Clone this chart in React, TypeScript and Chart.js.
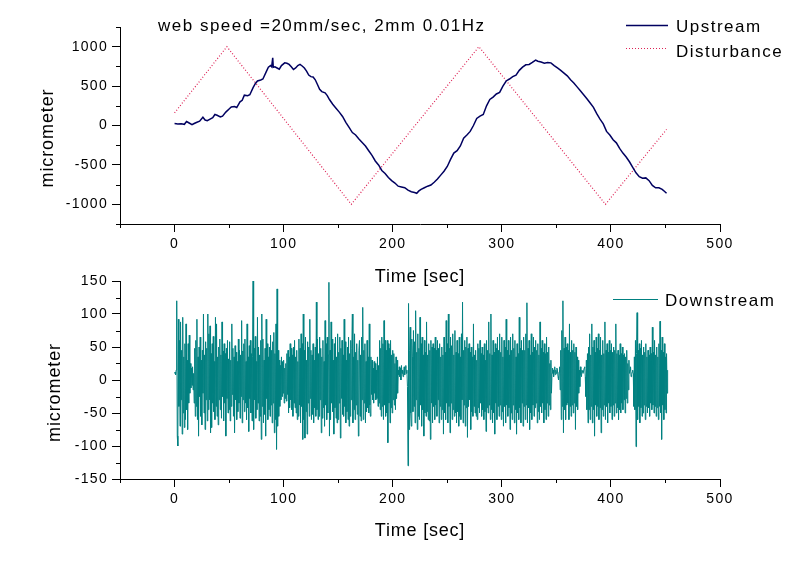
import React, { useEffect, useRef } from 'react';
import { Chart, registerables } from 'chart.js';
Chart.register(...registerables);

const FONT = '"Liberation Sans", Arial, Helvetica, sans-serif';

const TITLE = 'web speed =20mm/sec, 2mm 0.01Hz';
const X_TITLE = 'Time [sec]';
const Y_TITLE = 'micrometer';
const UP_LABEL = 'Upstream';
const DIST_LABEL = 'Disturbance';
const DOWN_LABEL = 'Downstream';

const X_MIN = -50;
const X_MAX = 500;
const X_STEP = 50;
const X_MAJOR = 100;
const TOP_Y_MIN = -1250;
const TOP_Y_MAX = 1250;
const TOP_Y_STEP = 250;
const TOP_Y_MAJOR = 500;
const BOT_Y_MIN = -150;
const BOT_Y_MAX = 150;
const BOT_Y_STEP = 25;
const BOT_Y_MAJOR = 50;

const UP_COLOR = '#000060';
const DIST_COLOR = '#dd2255';
const DOWN_COLOR = '#008080';

// Upstream (time s, micrometer)
const UP_T = [0,3,6,9,11,13,16,18,20,23,26,28,30,33,35,37,39,42,44,47,50,52,55,57,60,62,64,67,69,72,74,76,79,81,84,86,88,89,90,90.5,92,94,96,98,101,103,105,107,109,111,113,115,117,119,121,123,125,127,129,131,133,135,138,140,142,145,148,151,154,157,160,163,166,169,172,175,178,181,184,187,190,193,196,199,202,205,208,211,214,217,220,222,224,226,229,232,235,238,241,244,247,250,253,256,259,262,265,268,271,274,277,280,283,286,289,292,295,298,301,304,307,310,313,316,319,322,325,328,331,333,336,339,342,345,348,351,354,357,360,363,366,369,372,375,378,381,384,387,390,393,396,399,402,405,408,411,414,417,420,423,426,429,432,435,438,441,444,447,449,451];
const UP_V = [25,20,22,15,50,35,10,25,38,55,105,70,62,85,100,140,130,110,118,170,210,235,240,228,300,320,385,378,390,480,530,565,578,590,680,740,760,745,860,740,745,730,715,760,795,790,775,745,710,730,760,775,755,730,690,640,620,615,580,520,460,430,415,380,330,270,220,170,115,40,-25,-90,-120,-170,-215,-260,-320,-380,-450,-500,-570,-610,-660,-700,-730,-770,-780,-790,-820,-840,-850,-860,-830,-810,-790,-770,-755,-720,-680,-630,-580,-520,-430,-350,-320,-260,-160,-120,-75,0,90,120,140,250,330,360,400,420,500,565,590,620,640,700,740,770,775,800,830,815,805,790,800,795,760,730,700,665,630,580,540,490,440,390,340,285,230,150,80,20,-75,-120,-180,-220,-290,-350,-400,-460,-530,-600,-650,-670,-665,-700,-760,-790,-790,-810,-835,-860];

// Disturbance (triangle wave vertices)
const DIST_T = [0, 48, 162, 279, 395, 451];
const DIST_V = [160, 1000, -1000, 1000, -1000, -50];

// Downstream: two samples per second from t = 0 (each row = 10 s)
const DOWN_T0 = 0;
const DOWN_DT = 0.5;
const DOWN_V = [
  10,12,8,15,120,-85,-100,92,-40,60,-70,88,-30,45,-82,95,-50,35,-72,55,
  -60,85,-45,30,-75,55,-35,68,-20,25,-12,18,-8,20,-15,10,-35,48,-55,60,
  -40,92,-60,35,-85,50,-25,65,-55,30,-68,45,-20,100,-50,38,-75,58,-30,48,
  -62,100,-45,70,-30,82,-80,40,-72,55,-35,66,-48,28,-60,95,-40,85,-55,35,
  -68,50,-30,62,-45,38,-58,88,-25,44,-62,55,-35,40,-85,48,-28,60,-50,32,
  -45,58,-62,30,-40,85,-22,48,-55,35,-80,52,-30,42,-60,28,-48,62,-35,45,
  -58,38,-25,90,-65,44,-30,55,-48,62,-35,28,-60,85,-42,35,-78,52,-28,60,
  -50,40,-62,35,150,-75,48,-30,66,-58,28,-45,95,-35,50,-62,38,-55,60,-90,
  100,-40,62,-65,30,-52,48,-85,92,-28,55,-60,35,-45,50,-55,68,-38,45,-65,
  58,-35,72,-80,40,-60,85,-105,138,-70,45,-55,30,-40,22,-30,35,-25,28,-20,
  30,-35,18,-28,25,-32,40,-22,45,-50,35,-42,55,-30,48,-45,38,-55,50,-35,
  60,-42,35,-50,45,-60,28,-55,62,-38,48,-65,70,-40,55,-90,100,-60,45,-88,
  65,-48,30,-82,58,-35,50,-55,92,-28,45,-60,38,-52,55,-65,30,-42,50,-55,
  118,-45,62,-60,40,-55,65,-30,48,-80,35,-58,60,-42,28,-70,90,-38,55,-60,
  65,-50,38,148,-85,45,-60,88,-35,62,-48,30,-82,55,-42,65,-58,35,-65,70,
  -60,42,-35,65,-88,48,-28,60,-52,38,-55,92,-40,58,-65,30,-48,50,-60,65,
  -70,40,-55,60,-30,48,100,-65,35,-45,70,-60,42,-38,55,-52,30,-85,45,60,
  -55,38,-62,65,-30,110,-60,45,-35,55,-65,28,-48,60,-42,35,-50,85,-38,-55,
  35,-22,30,-30,18,-35,28,-20,25,-30,15,-28,35,-40,22,-35,60,-45,48,-55,
  65,-40,55,-60,90,-38,60,-55,45,-50,60,-95,55,-35,48,-65,60,-42,38,-50,
  45,-30,40,-38,25,-45,35,-28,30,-20,15,8,20,5,18,0,22,10,15,5,
  12,20,8,18,22,10,15,-10,-130,116,-75,45,80,-50,-70,62,35,-48,75,-40,
  58,-65,105,-30,42,-75,70,-55,48,-60,95,-38,55,-70,65,-45,38,-85,60,-50,
  42,-55,88,-48,38,-60,55,-62,45,-90,60,-35,50,-65,55,-40,48,-60,65,-38,
  45,-55,60,-30,48,-65,55,-40,35,-60,50,-45,38,-82,65,-50,42,-60,90,-35,
  55,-65,100,-40,48,-80,65,-35,52,-60,70,-45,38,-55,75,-50,42,-65,60,-48,
  40,-70,65,-55,35,-60,70,-30,118,-65,45,-38,60,-70,50,-42,65,-87,48,-40,
  55,-30,42,-75,50,-48,35,-55,85,-40,38,-50,45,-55,30,-60,55,-42,48,-50,
  60,-35,40,-55,50,-45,38,-60,55,-48,30,-78,60,-42,45,-50,88,-38,40,-60,
  100,-45,38,-65,60,-50,42,-82,55,-35,48,-60,65,-40,45,-55,70,-38,42,-60,
  65,-48,35,-70,60,-40,50,-65,92,-38,45,-55,60,-42,38,-75,65,-50,45,-60,
  70,-38,48,-65,60,-45,35,-82,55,-50,40,-60,95,-42,48,-65,60,-35,45,-70,
  65,-40,45,-60,70,-38,117,-65,48,-42,60,-75,38,-50,70,-60,42,-38,65,-55,
  50,-42,60,-35,45,-65,55,-48,38,-60,88,-40,48,-50,60,-35,42,-65,55,-45,
  40,-60,65,-35,42,-55,50,-38,25,-45,30,-20,10,18,15,5,12,20,8,15,
  10,18,15,5,0,12,20,-15,45,-60,75,-40,120,-80,48,-45,65,-60,50,-38,
  55,-35,45,-60,85,-40,42,-55,60,-38,45,-50,55,-35,42,-75,50,-40,35,-45,
  30,-20,15,-10,20,8,5,15,15,10,10,18,20,5,-25,30,-45,40,-65,50,
  -45,70,-60,38,-40,85,-65,50,-45,60,-85,42,-38,65,-55,48,-40,70,-60,45,
  -42,65,-80,38,-45,60,-55,40,-38,88,-60,45,-40,55,-65,42,-35,60,-50,45,
  -40,55,-60,42,-38,50,-55,45,-35,85,-50,40,-42,45,-60,38,-45,55,-50,40,
  -35,50,-45,38,-30,40,-50,35,-28,45,-35,25,-15,30,10,15,20,5,8,12,
  15,10,-40,35,-45,60,-101,40,102,-60,45,-40,55,-65,48,-42,60,-55,38,-50,
  50,-38,42,-60,55,-40,35,-50,45,-42,38,-55,50,-35,40,-45,80,-38,42,-50,
  60,-40,38,-55,50,-42,35,-60,55,-40,89,-50,45,-90,65,-38,42,-60,55,-45,
  35,-50,40,-20,15,
];

type TextItem = { text: string; x: number; y: number; size: number; ls: number; align: CanvasTextAlign; rot?: number };
type LegendLine = { x1: number; x2: number; y: number; color: string; width: number; dash: number[] };

function drawText(ctx: CanvasRenderingContext2D, t: TextItem) {
  ctx.save();
  ctx.font = `${t.size}px ${FONT}`;
  ctx.fillStyle = '#000';
  ctx.textAlign = t.align;
  ctx.textBaseline = 'alphabetic';
  (ctx as any).letterSpacing = t.ls + 'px';
  ctx.translate(t.x, t.y);
  if (t.rot) ctx.rotate(t.rot);
  ctx.fillText(t.text, 0, 0);
  ctx.restore();
}

const decorPlugin = {
  id: 'decor',
  beforeDraw(chart: any) {
    (chart.ctx as any).letterSpacing = '1.3px';
  },
  afterDraw(chart: any, _args: any, opts: any) {
    const ctx: CanvasRenderingContext2D = chart.ctx;
    ctx.save();
    ctx.strokeStyle = '#000';
    ctx.lineWidth = 1;
    const xs = chart.scales.x;
    const ys = chart.scales.y;
    xs.ticks.forEach((t: any) => {
      if (t.value % opts.xMajor !== 0) {
        const px = Math.round(xs.getPixelForValue(t.value)) + 0.5;
        ctx.beginPath();
        ctx.moveTo(px, xs.top);
        ctx.lineTo(px, xs.top + 4);
        ctx.stroke();
      }
    });
    ys.ticks.forEach((t: any) => {
      if (t.value % opts.yMajor !== 0) {
        const py = Math.round(ys.getPixelForValue(t.value)) + 0.5;
        ctx.beginPath();
        ctx.moveTo(ys.right, py);
        ctx.lineTo(ys.right - 4, py);
        ctx.stroke();
      }
    });
    (opts.lines || []).forEach((l: LegendLine) => {
      ctx.save();
      ctx.strokeStyle = l.color;
      ctx.lineWidth = l.width;
      ctx.setLineDash(l.dash);
      ctx.beginPath();
      ctx.moveTo(l.x1, l.y);
      ctx.lineTo(l.x2, l.y);
      ctx.stroke();
      ctx.restore();
    });
    ctx.restore();
    (opts.texts || []).forEach((t: TextItem) => drawText(ctx, t));
  },
};

function makeScales(yMin: number, yMax: number, yStep: number, yMajor: number, xHeight: number) {
  return {
    x: {
      type: 'linear' as const,
      min: X_MIN,
      max: X_MAX,
      afterFit: (s: any) => { s.height = xHeight; },
      ticks: {
        stepSize: X_STEP,
        autoSkip: false,
        maxRotation: 0,
        minRotation: 0,
        padding: 4,
        color: '#000',
        font: { size: 14, family: FONT },
        callback: (v: any) => (Number(v) % X_MAJOR === 0 ? String(v) : ''),
      },
      grid: {
        display: true,
        drawOnChartArea: false,
        drawTicks: true,
        tickLength: 8,
        tickWidth: 1,
        tickColor: (c: any) => (c.tick && c.tick.value % X_MAJOR === 0 ? '#000' : 'rgba(0,0,0,0)'),
      },
      border: { display: true, color: '#000', width: 1 },
    },
    y: {
      type: 'linear' as const,
      min: yMin,
      max: yMax,
      afterFit: (s: any) => { s.width = 120; },
      ticks: {
        stepSize: yStep,
        autoSkip: false,
        padding: 4,
        color: '#000',
        font: { size: 14, family: FONT },
        callback: (v: any) => (Number(v) % yMajor === 0 ? String(v) : ''),
      },
      grid: {
        display: true,
        drawOnChartArea: false,
        drawTicks: true,
        tickLength: 8,
        tickWidth: 1,
        tickColor: (c: any) => (c.tick && c.tick.value % yMajor === 0 ? '#000' : 'rgba(0,0,0,0)'),
      },
      border: { display: true, color: '#000', width: 1 },
    },
  };
}

export default function App() {
  const topRef = useRef<HTMLCanvasElement>(null);
  const botRef = useRef<HTMLCanvasElement>(null);

  useEffect(() => {
    Chart.defaults.font.family = FONT;
    const upData = UP_T.map((t, i) => ({ x: t, y: UP_V[i] }));
    const distData = DIST_T.map((t, i) => ({ x: t, y: DIST_V[i] }));
    const downData = DOWN_V.map((v, i) => ({ x: DOWN_T0 + i * DOWN_DT, y: v }));

    const top = new Chart(topRef.current!, {
      type: 'line',
      data: {
        datasets: [
          { label: UP_LABEL, data: upData, borderColor: UP_COLOR, borderWidth: 1.5, pointRadius: 0, tension: 0, fill: false },
          { label: DIST_LABEL, data: distData, borderColor: DIST_COLOR, borderWidth: 1.2, borderDash: [1, 2], pointRadius: 0, tension: 0, fill: false },
        ],
      },
      options: {
        responsive: false,
        animation: false,
        events: [],
        layout: { padding: { top: 27, right: 80, left: 0, bottom: 0 } },
        scales: makeScales(TOP_Y_MIN, TOP_Y_MAX, TOP_Y_STEP, TOP_Y_MAJOR, 76) as any,
        plugins: {
          legend: { display: false },
          tooltip: { enabled: false },
          decor: {
            xMajor: X_MAJOR,
            yMajor: TOP_Y_MAJOR,
            lines: [
              { x1: 626, x2: 668, y: 25.5, color: UP_COLOR, width: 1.5, dash: [] },
              { x1: 626, x2: 668, y: 48.5, color: DIST_COLOR, width: 1.2, dash: [1, 2] },
            ],
            texts: [
              { text: TITLE, x: 158, y: 31, size: 17, ls: 1.5, align: 'left' },
              { text: UP_LABEL, x: 676, y: 31.5, size: 17, ls: 1.5, align: 'left' },
              { text: DIST_LABEL, x: 676, y: 56.5, size: 17, ls: 1.5, align: 'left' },
              { text: X_TITLE, x: 420, y: 281.5, size: 18, ls: 0.8, align: 'center' },
              { text: Y_TITLE, x: 52.5, y: 138, size: 18, ls: 0.9, align: 'center', rot: -Math.PI / 2 },
            ],
          },
        } as any,
      },
      plugins: [decorPlugin],
    });

    const bot = new Chart(botRef.current!, {
      type: 'line',
      data: {
        datasets: [
          { label: DOWN_LABEL, data: downData, borderColor: DOWN_COLOR, borderWidth: 1, pointRadius: 0, tension: 0, fill: false },
        ],
      },
      options: {
        responsive: false,
        animation: false,
        events: [],
        layout: { padding: { top: 21, right: 80, left: 0, bottom: 0 } },
        scales: makeScales(BOT_Y_MIN, BOT_Y_MAX, BOT_Y_STEP, BOT_Y_MAJOR, 83) as any,
        plugins: {
          legend: { display: false },
          tooltip: { enabled: false },
          decor: {
            xMajor: X_MAJOR,
            yMajor: BOT_Y_MAJOR,
            lines: [
              { x1: 613, x2: 658, y: 39.5, color: DOWN_COLOR, width: 1.2, dash: [] },
            ],
            texts: [
              { text: DOWN_LABEL, x: 665, y: 46, size: 17, ls: 1.5, align: 'left' },
              { text: X_TITLE, x: 420, y: 275.5, size: 18, ls: 0.8, align: 'center' },
              { text: Y_TITLE, x: 60, y: 132.5, size: 18, ls: 0.9, align: 'center', rot: -Math.PI / 2 },
            ],
          },
        } as any,
      },
      plugins: [decorPlugin],
    });

    return () => {
      top.destroy();
      bot.destroy();
    };
  }, []);

  return (
    <div style={{ position: 'fixed', left: 0, top: 0, width: 800, height: 562, background: '#fff', overflow: 'hidden' }}>
      <canvas ref={topRef} width={800} height={300} style={{ position: 'absolute', left: 0, top: 0 }} />
      <canvas ref={botRef} width={800} height={302} style={{ position: 'absolute', left: 0, top: 260 }} />
    </div>
  );
}
